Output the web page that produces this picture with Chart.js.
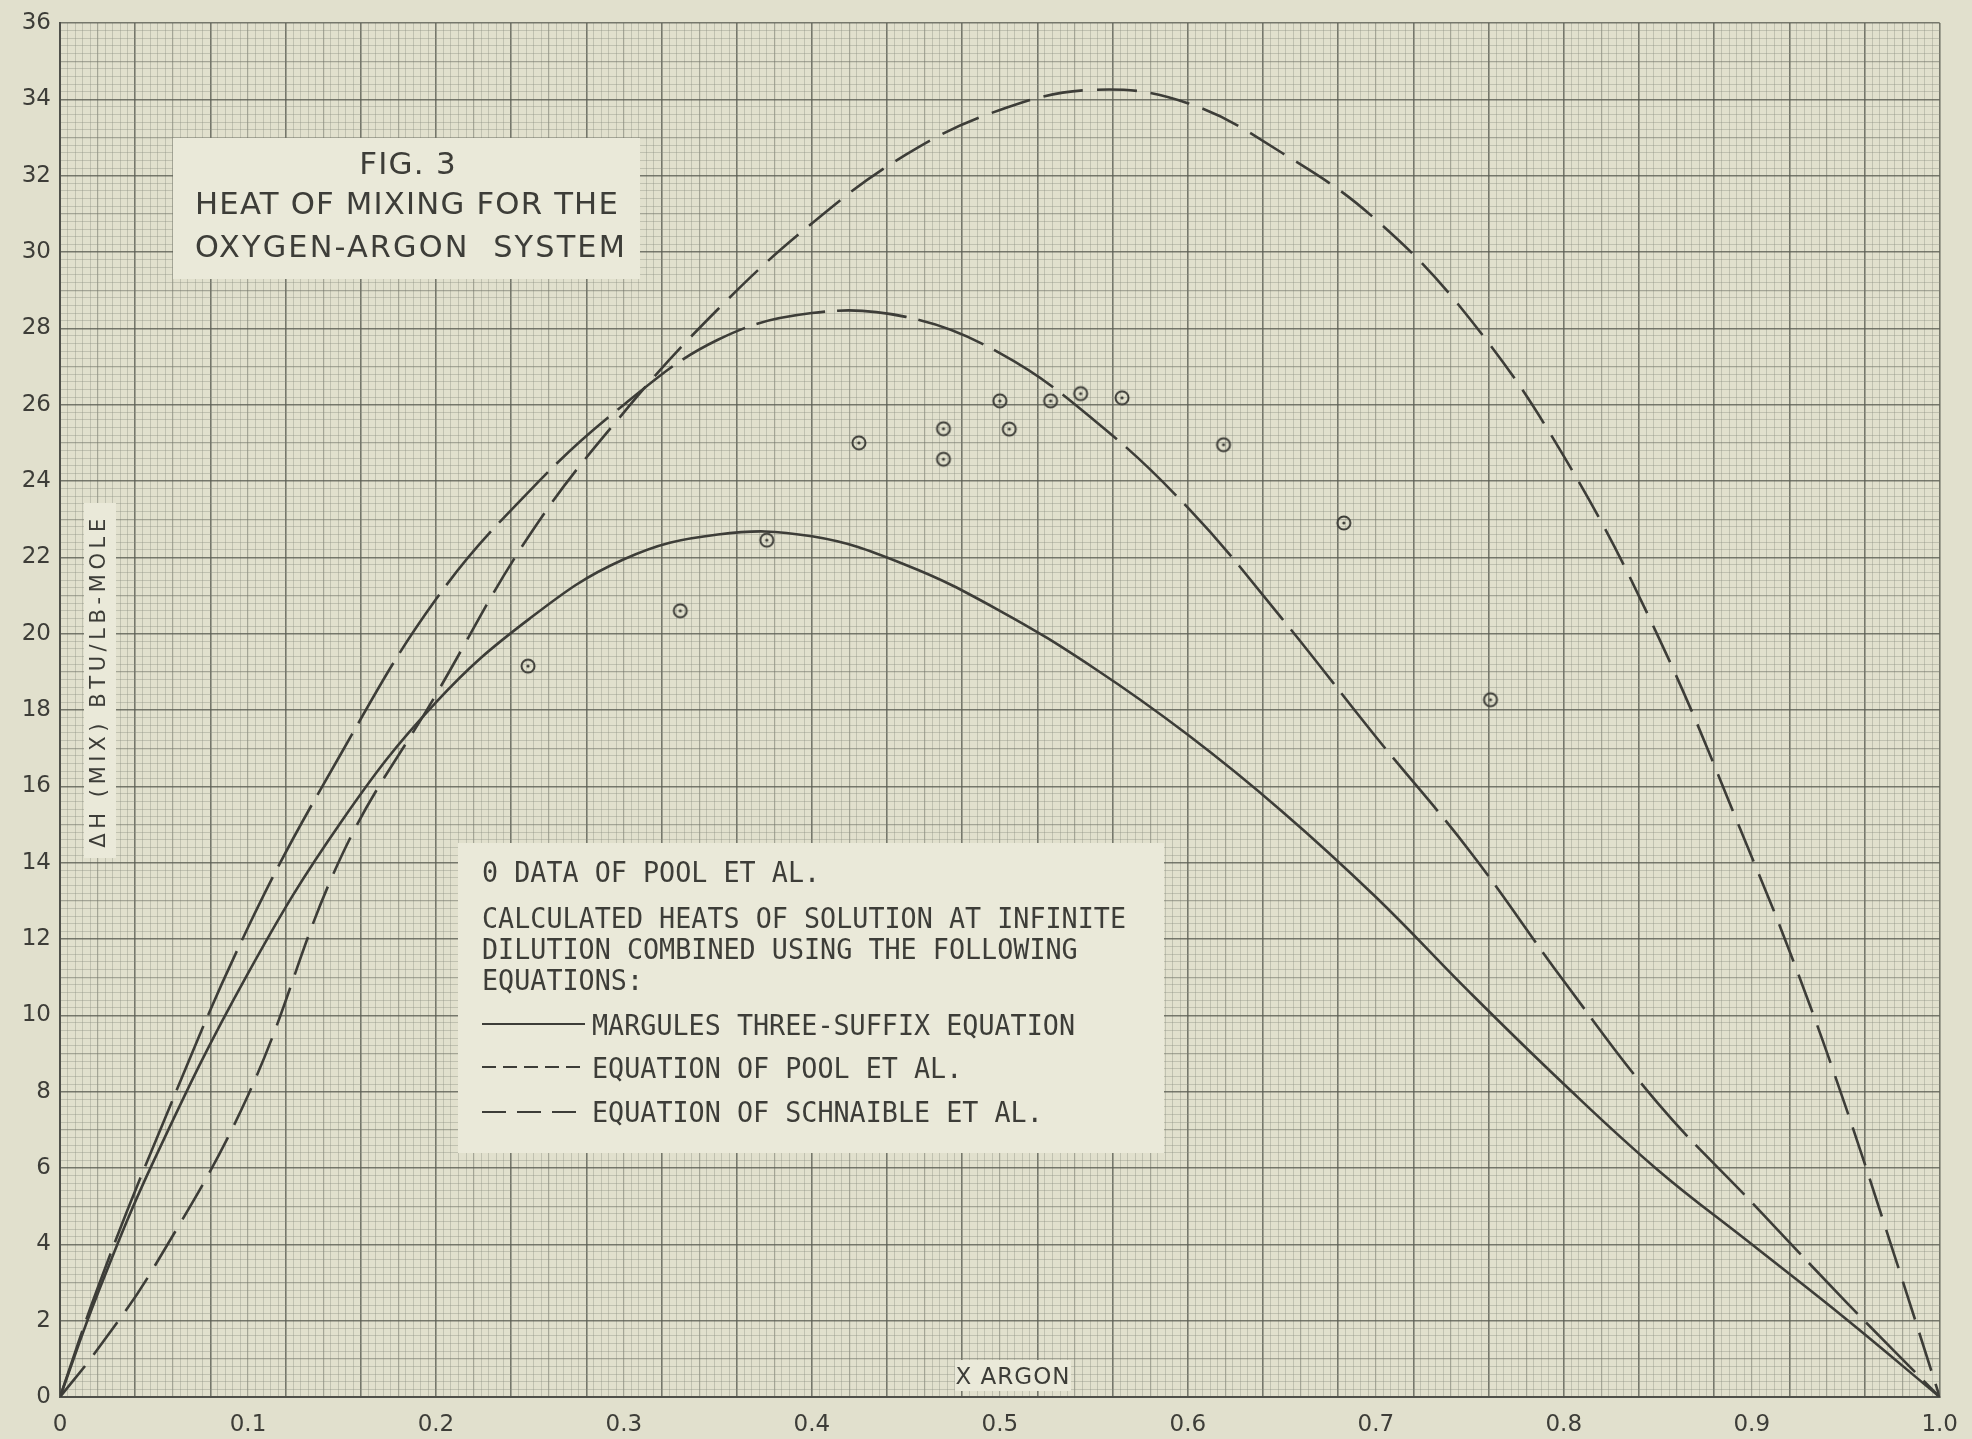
<!DOCTYPE html>
<html>
<head>
<meta charset="utf-8">
<title>Heat of mixing for the oxygen-argon system</title>
<script src="https://cdn.jsdelivr.net/npm/chart.js@4.4.1/dist/chart.umd.min.js"></script>
<style>
  html, body { margin: 0; padding: 0; background: #e1e0cd; }
  canvas { display: block; }
</style>
</head>
<body>
<canvas id="heatChart" width="1972" height="1439"></canvas>
<script>
// values (x = mole fraction argon, y = BTU/lb-mole)
const xArgon = [0, 0.02, 0.05, 0.1, 0.15, 0.2, 0.25, 0.3, 0.35, 0.4, 0.45, 0.5, 0.55, 0.6, 0.65, 0.7, 0.75, 0.8, 0.85, 0.9, 0.95, 1.0];
const margules = [0, 2.7, 6.2, 11.1, 15.1, 18.2, 20.4, 21.95, 22.6, 22.55, 21.8, 20.6, 19.1, 17.35, 15.35, 13.1, 10.6, 8.2, 5.95, 4.0, 2.05, 0];
const poolEquation = [0, 2.85, 6.6, 12.3, 16.9, 20.9, 23.75, 26.0, 27.7, 28.4, 28.3, 27.35, 25.6, 23.3, 20.4, 17.3, 14.3, 10.9, 7.7, 5.1, 2.5, 0];

const schnaibleX = [0, 0.02, 0.05, 0.1, 0.15, 0.2, 0.25, 0.3, 0.35, 0.4, 0.45, 0.5, 0.55, 0.6, 0.65, 0.7, 0.75, 0.8, 0.85, 0.9, 0.925, 0.95, 0.975, 1.0];
const schnaible = [0, 1.25, 3.4, 7.9, 14.2, 18.4, 22.6, 25.8, 28.5, 30.75, 32.55, 33.72, 34.25, 33.9, 32.6, 30.85, 28.25, 24.65, 19.95, 14.15, 11.05, 7.6, 3.85, 0];

// data of Pool et al. (circles)
const poolDataX = [0.249, 0.330, 0.376, 0.425, 0.470, 0.470, 0.500, 0.505, 0.527, 0.543, 0.565, 0.619, 0.683, 0.761];
const poolDataY = [19.15, 20.6, 22.45, 25.0, 25.37, 24.57, 26.1, 25.36, 26.1, 26.29, 26.18, 24.95, 22.9, 18.27];

const xTickLabels = ["0", "0.1", "0.2", "0.3", "0.4", "0.5", "0.6", "0.7", "0.8", "0.9", "1.0"];

const ink = "#3d3d38";
const paper = "#e1e0cd";
const boxFill = "#eae9d9";

function toPoints(xs, ys) {
  return xs.map((x, i) => ({ x: x, y: ys[i] }));
}

// graph paper: fine / medium (every 5) / heavy (every 10)
function paperLine(value, step) {
  const k = Math.round(value / step);
  if (k % 10 === 0) return { color: "rgba(90,92,82,0.8)", width: 1.6 };
  if (k % 5 === 0) return { color: "rgba(115,117,105,0.55)", width: 1.2 };
  return { color: "rgba(140,142,130,0.38)", width: 1 };
}

// little circle with a dot, like the hand plotted points
const marker = document.createElement("canvas");
marker.width = 18;
marker.height = 18;
(function () {
  const c = marker.getContext("2d");
  c.strokeStyle = ink;
  c.lineWidth = 2;
  c.beginPath();
  c.arc(9, 9, 6.5, 0, Math.PI * 2);
  c.stroke();
  c.fillStyle = ink;
  c.beginPath();
  c.arc(9, 9, 1.6, 0, Math.PI * 2);
  c.fill();
})();

const paperBackground = {
  id: "paperBackground",
  beforeDraw(chart) {
    const ctx = chart.ctx;
    ctx.save();
    ctx.fillStyle = paper;
    ctx.fillRect(0, 0, chart.width, chart.height);
    ctx.restore();
  }
};

function spaced(ctx, px) {
  if ("letterSpacing" in ctx) ctx.letterSpacing = px + "px";
}

const notes = {
  id: "notes",
  beforeDatasetsDraw(chart) {
    const ctx = chart.ctx;
    ctx.save();
    ctx.fillStyle = boxFill;
    ctx.fillRect(173, 138, 467, 141);   // title
    ctx.fillRect(458, 843, 706, 310);   // legend
    ctx.fillRect(84, 503, 32, 355);     // y label
    ctx.fillRect(955, 1360, 116, 31);   // x label

    ctx.fillStyle = ink;
    ctx.textBaseline = "alphabetic";

    // title
    ctx.font = "31px 'DejaVu Sans'";
    ctx.textAlign = "center";
    spaced(ctx, 1.2);
    ctx.fillText("FIG. 3", 408, 174);
    ctx.textAlign = "left";
    ctx.fillText("HEAT OF MIXING FOR THE", 195, 214, 424);
    spaced(ctx, 2.2);
    ctx.fillText("OXYGEN-ARGON  SYSTEM", 195, 257, 432);

    // legend
    spaced(ctx, 0);
    ctx.font = "29px 'DejaVu Sans Mono'";
    const cw = 16.1;
    const legendLines = [
      ["0 DATA OF POOL ET AL.", 482, 882],
      ["CALCULATED HEATS OF SOLUTION AT INFINITE", 482, 928],
      ["DILUTION COMBINED USING THE FOLLOWING", 482, 959],
      ["EQUATIONS:", 482, 990],
      ["MARGULES THREE-SUFFIX EQUATION", 592, 1035],
      ["EQUATION OF POOL ET AL.", 592, 1078],
      ["EQUATION OF SCHNAIBLE ET AL.", 592, 1122]
    ];
    legendLines.forEach(([t, x, y]) => ctx.fillText(t, x, y, t.length * cw));

    ctx.strokeStyle = ink;
    ctx.lineWidth = 2;
    const samples = [[[], 1024], [[14, 7], 1067], [[24, 11], 1112]];
    samples.forEach(([dash, y]) => {
      ctx.setLineDash(dash);
      ctx.beginPath();
      ctx.moveTo(482, y);
      ctx.lineTo(585, y);
      ctx.stroke();
    });
    ctx.setLineDash([]);

    // y axis title, rotated
    ctx.save();
    ctx.translate(100, 681);
    ctx.rotate(-Math.PI / 2);
    ctx.font = "21px 'DejaVu Sans'";
    ctx.textAlign = "center";
    ctx.textBaseline = "middle";
    spaced(ctx, 4.6);
    ctx.fillText("\u0394H (MIX) BTU/LB-MOLE", 0, 0);
    ctx.restore();

    // x axis title
    spaced(ctx, 1);
    ctx.font = "23px 'DejaVu Sans'";
    ctx.textAlign = "center";
    ctx.fillText("X ARGON", 1013, 1384);
    ctx.restore();
  }
};

const lineStyle = {
  showLine: true,
  pointRadius: 0,
  borderColor: ink,
  borderWidth: 2.6,
  tension: 0.4,
  fill: false
};

new Chart(document.getElementById("heatChart").getContext("2d"), {
  type: "scatter",
  data: {
    datasets: [
      {
        label: "Data of Pool et al.",
        data: toPoints(poolDataX, poolDataY),
        pointStyle: marker,
        pointRadius: 9
      },
      Object.assign({ label: "Margules three-suffix equation", data: toPoints(xArgon, margules) }, lineStyle),
      Object.assign({ label: "Equation of Pool et al.", data: toPoints(xArgon, poolEquation), borderDash: [70, 12] }, lineStyle),
      Object.assign({ label: "Equation of Schnaible et al.", data: toPoints(schnaibleX, schnaible), borderDash: [40, 14] }, lineStyle)
    ]
  },
  options: {
    responsive: false,
    animation: false,
    layout: { padding: { top: 23, right: 24, left: 0, bottom: 0 } },
    plugins: {
      legend: { display: false },
      tooltip: { enabled: false }
    },
    scales: {
      x: {
        type: "linear",
        min: 0,
        max: 1,
        afterFit: (s) => { s.height = 42; },
        ticks: {
          stepSize: 0.004,
          autoSkip: false,
          maxRotation: 0,
          padding: 14,
          color: ink,
          font: { family: "DejaVu Sans", size: 23 },
          callback: (v) => {
            const i = Math.round(v * 10);
            return Math.abs(v * 10 - i) < 1e-6 ? xTickLabels[i] : "";
          }
        },
        grid: {
          drawTicks: false,
          color: (c) => paperLine(c.tick.value, 0.004).color,
          lineWidth: (c) => paperLine(c.tick.value, 0.004).width
        },
        border: { display: true, color: "#4f504a", width: 2 }
      },
      y: {
        min: 0,
        max: 36,
        afterFit: (s) => { s.width = 60; },
        ticks: {
          stepSize: 0.2,
          autoSkip: false,
          padding: 9,
          color: ink,
          font: { family: "DejaVu Sans", size: 23 },
          callback: (v) => {
            const k = Math.round(v / 2);
            return Math.abs(v / 2 - k) < 1e-6 ? String(k * 2) : "";
          }
        },
        grid: {
          drawTicks: false,
          color: (c) => paperLine(c.tick.value, 0.2).color,
          lineWidth: (c) => paperLine(c.tick.value, 0.2).width
        },
        border: { display: true, color: "#4f504a", width: 2 }
      }
    }
  },
  plugins: [paperBackground, notes]
});
</script>
</body>
</html>
